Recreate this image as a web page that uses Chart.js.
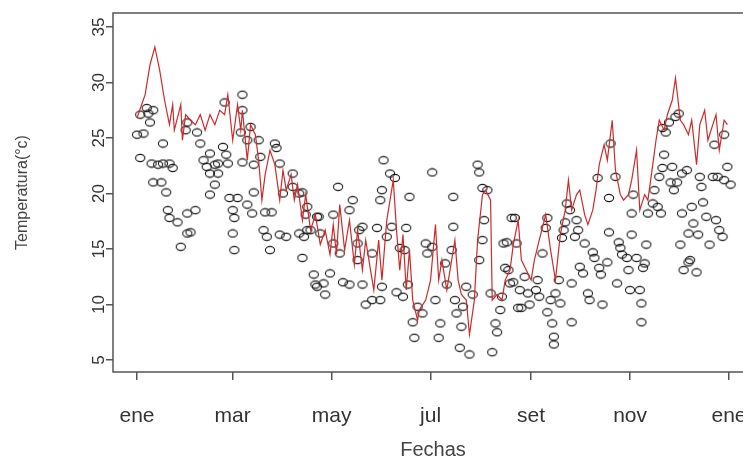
<!DOCTYPE html>
<html>
<head>
<meta charset="utf-8">
<script src="https://cdn.jsdelivr.net/npm/chart.js@4"></script>
<style>
  html, body { margin: 0; padding: 0; background: #fff; overflow: hidden; }
  #wrap { width: 760px; height: 459px; }
</style>
</head>
<body>
<div id="wrap"><canvas id="ctx_temp" width="760" height="459"></canvas></div>
<script>
// eje x: dia del año (0 = 1 de enero)
var monthDays   = [0, 59, 120, 181, 243, 304, 365];
var monthLabels = ['ene', 'mar', 'may', 'jul', 'set', 'nov', 'ene'];
var tempTicks   = [5, 10, 15, 20, 25, 30, 35];

// serie roja (linea)
var lineDays = [0, 5, 8, 11, 14, 17, 20, 22, 23, 27, 28, 30, 33, 36, 39, 42, 45, 48, 51, 54,
  56, 59, 62, 64, 65, 68, 70, 73, 75, 77, 79, 82, 85, 88, 90, 92, 95, 97, 99, 102,
  104, 107, 110, 113, 116, 119, 121, 123, 125, 128, 131, 134, 136, 139, 141, 144, 146, 149, 151, 154,
  156, 158, 160, 162, 164, 166, 168, 170, 173, 174, 178, 181, 184, 186, 188, 191, 193, 196, 198, 200,
  203, 205, 208, 210, 213, 215, 218, 219, 222, 225, 227, 230, 232, 235, 237, 240, 243, 245, 248, 252,
  255, 258, 261, 264, 266, 268, 271, 273, 276, 278, 281, 283, 285, 288, 290, 293, 295, 298, 300, 303,
  305, 308, 310, 313, 315, 318, 320, 322, 325, 327, 330, 332, 335, 337, 340, 342, 345, 347, 350, 352,
  355, 357, 359, 362, 364];
var lineTemps = [26.8, 28.9, 31.6, 33.2, 31.1, 28.4, 26.2, 28.0, 25.7, 28.0, 24.8, 27.1, 26.6, 26.2, 27.1, 25.7, 27.1, 26.2, 27.5, 27.1,
  28.9, 24.8, 28.0, 25.7, 27.5, 23.0, 26.2, 25.3, 23.0, 19.4, 21.7, 23.9, 22.6, 19.4, 22.1, 20.3, 21.7, 19.4, 20.8, 17.6,
  19.9, 16.7, 18.1, 15.4, 16.7, 14.5, 17.2, 14.5, 19.0, 14.9, 17.6, 13.6, 16.7, 13.1, 15.8, 13.1, 11.3, 15.8, 12.2, 17.6,
  19.4, 21.2, 16.7, 13.1, 16.3, 11.3, 14.9, 10.4, 8.6, 9.5, 10.4, 12.2, 17.2, 12.2, 14.0, 11.3, 13.1, 15.8, 12.2, 10.9,
  10.4, 7.3, 10.4, 15.8, 19.9, 20.3, 19.4, 10.4, 10.9, 10.4, 12.2, 13.1, 15.4, 17.6, 14.0, 13.1, 12.2, 14.0, 15.8, 18.1,
  14.9, 12.2, 16.3, 18.5, 21.2, 18.5, 19.9, 20.3, 18.1, 17.2, 18.5, 20.3, 22.6, 24.4, 23.0, 26.6, 22.1, 19.9, 19.4, 19.9,
  21.2, 23.9, 18.5, 19.9, 19.4, 22.6, 24.8, 26.6, 25.7, 27.1, 28.4, 30.4, 26.6, 26.2, 25.3, 26.6, 22.6, 26.2, 27.5, 24.8,
  26.2, 27.1, 23.9, 26.6, 26.2];

// serie de circulos (observados)
var pointDays = [0, 2, 2, 4, 6, 8, 7, 10, 9, 13, 16, 10, 15, 18, 16, 20, 22, 19, 20, 25,
  27, 31, 36, 33, 31, 30, 31, 37, 39, 41, 43, 45, 45, 48, 50, 48, 45, 50, 53, 55,
  54, 56, 57, 62, 59, 60, 59, 60, 65, 65, 64, 70, 68, 65, 72, 68, 72, 71, 75, 76,
  79, 83, 78, 80, 82, 85, 86, 88, 90, 88, 92, 96, 96, 100, 100, 102, 105, 105, 109, 110,
  111, 152, 156, 159, 182, 210, 211, 124, 133, 150, 151, 168, 195, 213, 216, 102, 104, 112, 121, 131,
  107, 113, 103, 111, 116, 115, 119, 121, 125, 127, 131, 136, 137, 139, 136, 139, 141, 145, 145, 148,
  150, 151, 154, 157, 160, 162, 164, 166, 165, 167, 170, 171, 173, 176, 178, 179, 182, 184, 186, 187,
  190, 191, 194, 195, 196, 197, 200, 199, 205, 201, 203, 207, 211, 213, 214, 218, 221, 222, 219, 224,
  226, 231, 229, 232, 235, 233, 228, 234, 227, 230, 225, 236, 239, 237, 242, 241, 247, 246, 248, 253,
  252, 250, 255, 253, 256, 257, 257, 258, 261, 260, 262, 263, 264, 265, 267, 268, 268, 271, 272, 270,
  273, 275, 276, 278, 279, 281, 282, 285, 286, 287, 290, 291, 297, 298, 299, 296, 302, 303, 304, 305,
  308, 310, 311, 311, 313, 314, 312, 292, 295, 284, 291, 306, 305, 315, 318, 319, 322, 324, 330, 336,
  339, 321, 323, 329, 331, 333, 325, 324, 328, 332, 334, 336, 342, 343, 340, 346, 335, 341, 340, 337,
  345, 347, 348, 349, 351, 353, 355, 358, 359, 357, 361, 362, 366, 364, 362, 356, 326];
var pointTemps = [25.3, 23.2, 27.1, 25.4, 27.7, 26.4, 27.2, 27.5, 22.7, 22.6, 22.7, 21.0, 21.0, 20.1, 24.5, 22.7, 22.3, 18.5, 17.8, 17.4,
  15.2, 18.2, 18.5, 16.5, 16.4, 25.7, 26.4, 25.5, 24.5, 23.0, 22.4, 21.8, 23.6, 22.6, 21.8, 20.8, 19.9, 22.7, 24.2, 23.5,
  28.2, 22.7, 19.6, 19.6, 18.5, 17.8, 16.4, 14.9, 28.9, 27.5, 25.5, 26.0, 24.8, 22.8, 22.6, 19.0, 20.1, 18.2, 24.8, 23.3,
  18.3, 18.3, 16.7, 16.1, 14.9, 24.5, 24.1, 22.7, 20.0, 16.3, 16.1, 21.8, 20.6, 20.0, 16.4, 14.2, 18.8, 16.7, 12.7, 11.8,
  17.9, 23.0, 21.8, 21.4, 21.9, 22.6, 21.9, 20.6, 19.4, 19.4, 20.3, 19.7, 19.7, 20.5, 20.3, 20.1, 18.1, 17.9, 18.1, 18.5,
  16.7, 16.4, 16.1, 11.6, 10.9, 11.9, 12.8, 15.5, 14.6, 12.0, 11.8, 15.5, 16.7, 17.0, 14.0, 11.8, 10.0, 10.4, 14.6, 16.9,
  10.4, 11.6, 16.1, 17.0, 11.1, 15.1, 10.7, 16.9, 14.9, 11.8, 8.4, 7.0, 9.8, 9.2, 15.5, 14.6, 15.2, 10.4, 7.0, 8.3,
  13.7, 11.8, 14.9, 17.0, 10.4, 9.2, 8.0, 6.1, 5.5, 9.8, 11.6, 10.9, 14.0, 15.8, 17.6, 11.0, 8.3, 7.5, 5.7, 9.5,
  15.5, 17.8, 13.1, 12.0, 9.7, 17.8, 15.6, 15.5, 13.3, 11.9, 10.7, 11.3, 12.5, 9.7, 10.0, 11.0, 12.2, 11.3, 10.7, 17.8,
  16.9, 14.6, 10.4, 9.3, 8.3, 7.1, 6.4, 11.0, 10.1, 12.2, 16.0, 16.7, 17.4, 19.1, 18.5, 11.9, 8.4, 17.6, 16.7, 16.1,
  13.4, 12.8, 15.5, 11.0, 10.4, 14.7, 14.2, 13.3, 12.7, 10.0, 13.8, 16.5, 15.6, 15.1, 14.5, 11.9, 14.2, 13.1, 11.3, 16.3,
  14.2, 11.3, 10.1, 8.4, 13.7, 15.4, 13.3, 24.5, 21.5, 21.4, 19.6, 19.9, 18.2, 18.2, 19.1, 20.3, 21.5, 22.3, 22.4, 21.8,
  22.1, 18.8, 18.2, 21.0, 20.3, 21.0, 23.5, 25.9, 26.4, 26.9, 27.2, 18.2, 18.8, 17.3, 16.4, 16.3, 15.4, 14.0, 13.8, 13.1,
  12.9, 21.5, 20.6, 19.2, 17.9, 15.4, 21.5, 21.5, 16.7, 17.6, 16.1, 21.2, 20.8, 22.4, 25.3, 24.4, 25.5];

// circulo achatado como en el grafico original
function ellipseMarker() {
    var c = document.createElement('canvas');
    c.width = 12; c.height = 10;
    var g = c.getContext('2d');
    g.strokeStyle = '#1a1a1a';
    g.lineWidth = 1.1;
    g.beginPath();
    g.ellipse(6, 5, 4.6, 3.6, 0, 0, Math.PI * 2);
    g.stroke();
    return c;
}

var boxPlugin = {
    id: 'box',
    afterDatasetsDraw: function(chart) {
        var a = chart.chartArea, ctx = chart.ctx;
        ctx.save();
        ctx.strokeStyle = '#555';
        ctx.lineWidth = 1.5;
        ctx.strokeRect(a.left, a.top, a.right - a.left, a.bottom - a.top);
        ctx.restore();
    }
};

var ctx = document.getElementById('ctx_temp');
var myChart = new Chart(ctx, {
    data: {
        datasets: [
            {
                type: 'line',
                data: lineDays.map(function(d, i) { return { x: d, y: lineTemps[i] }; }),
                borderColor: '#cc2b2b',
                borderWidth: 1.2,
                pointRadius: 0,
                tension: 0,
                fill: false
            },
            {
                type: 'scatter',
                data: pointDays.map(function(d, i) { return { x: d, y: pointTemps[i] }; }),
                pointStyle: ellipseMarker(),
                pointRadius: 5
            }
        ]
    },
    options: {
        responsive: false,
        animation: false,
        layout: { padding: { top: 13, right: 7, left: 0, bottom: 0 } },
        plugins: { legend: { display: false }, tooltip: { enabled: false } },
        scales: {
            x: {
                type: 'linear',
                min: -14.8,
                max: 379.8,
                afterBuildTicks: function(s) { s.ticks = monthDays.map(function(v) { return { value: v }; }); },
                afterFit: function(s) { s.height = 87; s.paddingLeft = 0; s.paddingRight = 0; },
                grid: { drawOnChartArea: false, drawTicks: true, tickLength: 8, color: '#555', lineWidth: 1.5 },
                border: { display: false },
                ticks: {
                    padding: 24,
                    maxRotation: 0,
                    autoSkip: false,
                    color: '#333',
                    font: { family: "'Liberation Sans', Arial, sans-serif", size: 21 },
                    callback: function(v) { var i = monthDays.indexOf(v); return i < 0 ? '' : monthLabels[i]; }
                },
                title: {
                    display: true,
                    text: 'Fechas',
                    color: '#444',
                    padding: { top: 0, bottom: -3 },
                    font: { family: "'Liberation Sans', Arial, sans-serif", size: 20 }
                }
            },
            y: {
                min: 3.92,
                max: 36.26,
                afterBuildTicks: function(s) { s.ticks = tempTicks.map(function(v) { return { value: v }; }); },
                afterFit: function(s) { s.width = 113; },
                grid: { drawOnChartArea: false, drawTicks: true, tickLength: 7, color: '#555', lineWidth: 1.5 },
                border: { display: false },
                ticks: {
                    minRotation: 90,
                    maxRotation: 90,
                    crossAlign: 'center',
                    padding: -3,
                    color: '#333',
                    font: { family: "'Liberation Sans', Arial, sans-serif", size: 17 }
                },
                title: {
                    display: true,
                    text: 'Temperatura(°c)',
                    color: '#444',
                    padding: { top: 13, bottom: 0 },
                    font: { family: "'Liberation Sans', Arial, sans-serif", size: 16 }
                }
            }
        }
    },
    plugins: [boxPlugin]
});
</script>
</body>
</html>
